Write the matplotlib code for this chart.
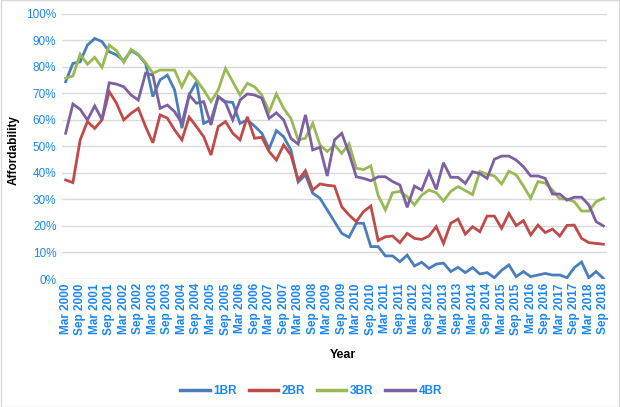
import matplotlib
matplotlib.use("Agg")
import matplotlib.pyplot as plt
from matplotlib.ticker import FuncFormatter
from matplotlib.patches import Rectangle

plt.rcParams['font.family'] = ['Liberation Sans', 'DejaVu Sans']

years = list(range(2000, 2019))
months = ["Mar", "Jun", "Sep", "Dec"]
quarters = [f"{m} {y}" for y in years for m in months][:75]

series_names = ["1BR", "2BR", "3BR", "4BR"]
colors = ["#4A7EBB", "#BE4B48", "#98B954", "#7D60A0"]

one_br = [74.3, 81.2, 81.8, 88.1, 90.6, 89.4, 85.6, 84.4, 82.2, 86.0, 84.4, 81.2, 68.7, 75.0, 76.8,
          71.2, 56.8, 69.3, 74.3, 58.6, 59.9, 68.7, 66.8, 66.5, 58.6, 59.9, 57.6, 54.9, 49.0,
          55.9, 53.6, 48.6, 36.5, 39.2, 32.3, 30.4, 26.0, 21.6, 17.2, 15.7, 21.0, 21.0, 12.2, 12.2,
          8.7, 8.7, 6.5, 9.0, 4.9, 6.3, 4.0, 5.6, 6.0, 2.8, 4.4, 2.4, 4.3, 1.9,
          2.4, 0.5, 3.3, 5.3, 0.9, 2.8, 0.9, 1.5, 2.1, 1.5, 1.5, 0.5, 4.3, 6.4, 0.5, 2.8, 0.2]
two_br = [37.3, 36.3, 52.4, 59.3, 56.7, 59.9, 70.6, 66.2, 59.9, 62.4, 64.3, 57.4, 51.3, 61.8, 60.6,
          56.1, 52.4, 61.0, 57.4, 53.6, 46.7, 57.4, 59.3, 54.9, 52.4, 61.1, 53.0, 53.4, 48.0,
          44.8, 50.5, 46.7, 37.3, 40.8, 33.5, 35.8, 35.3, 35.0, 27.2, 24.1, 21.6, 25.4, 27.5, 14.5,
          15.9, 16.2, 13.7, 17.2, 15.3, 14.9, 16.2, 19.7, 13.4, 21.0, 22.6, 16.9, 19.7, 17.8,
          23.7, 23.7, 19.1, 24.7, 20.1, 22.0, 16.6, 20.3, 17.5, 18.8, 16.2, 20.2, 20.3, 15.3, 13.7, 13.4, 13.1]
three_br = [75.6, 76.5, 84.7, 80.9, 83.5, 79.7, 88.1, 86.0, 81.6, 86.5, 84.7, 81.5, 77.5, 78.7, 78.7,
            78.7, 72.4, 78.1, 75.0, 71.2, 66.8, 71.2, 79.3, 74.3, 69.3, 73.7, 72.4, 69.3, 63.0,
            69.7, 64.3, 60.5, 52.4, 53.0, 58.6, 50.5, 48.0, 50.5, 47.3, 50.9, 41.7, 41.2, 42.6, 31.5,
            26.0, 32.5, 33.0, 31.0, 27.9, 31.6, 33.5, 32.5, 29.4, 33.0, 34.8, 33.3, 31.8, 40.5,
            39.5, 38.8, 35.8, 40.6, 39.2, 35.0, 30.4, 36.7, 36.1, 33.5, 30.2, 30.1, 29.1, 25.6, 25.6, 29.1, 30.4]
four_br = [54.9, 65.9, 63.9, 59.9, 65.2, 60.1, 73.9, 73.4, 72.4, 69.3, 67.4, 77.5, 76.8, 64.3, 65.5,
           63.0, 58.6, 69.3, 66.2, 66.8, 58.0, 68.7, 66.4, 59.9, 67.4, 69.7, 69.3, 68.1, 60.5,
           62.6, 59.9, 53.0, 50.8, 61.8, 48.6, 49.6, 38.8, 52.4, 54.9, 47.3, 38.5, 37.9, 37.0, 38.5,
           38.5, 36.7, 35.4, 27.0, 35.0, 33.5, 40.4, 33.8, 43.8, 38.3, 38.3, 36.0, 40.4, 39.7,
           37.9, 45.1, 46.3, 46.3, 44.8, 42.3, 38.8, 38.8, 37.9, 32.0, 32.0, 29.7, 30.8, 30.8, 27.9, 21.6, 20.0]

series = [one_br, two_br, three_br, four_br]
tick_color = "#1C86EE"

fig = plt.figure(figsize=(6.2, 4.07), dpi=100)
ax = fig.add_axes([62/620, 1 - 279/407, (607-62)/620, (279-13.5)/407])

x = list(range(len(quarters)))
for name, vals, c in zip(series_names, series, colors):
    ax.plot(x, vals, color=c, lw=2.0, label=name, solid_joinstyle='miter')

ax.set_xlim(-0.5, len(quarters) - 0.5)
ax.set_ylim(0, 100)
ax.set_yticks(range(0, 101, 10))
ax.yaxis.set_major_formatter(FuncFormatter(lambda v, p: f"{v:.0f}%"))
ax.set_xticks(x[::2])
ax.set_xticklabels(quarters[::2], rotation=90, fontsize=8.5, fontweight='bold', color=tick_color)
for lab in ax.get_yticklabels():
    lab.set_color(tick_color)
    lab.set_fontsize(8.5)
ax.tick_params(axis='both', length=0, pad=4)
ax.tick_params(axis='x', pad=3)
ax.grid(axis='y', color='#D9D9D9', lw=1)
ax.set_axisbelow(True)
for s in ax.spines.values():
    s.set_visible(False)

fig.text(14/620, 1 - 150/407, "Affordability", rotation=90, ha='center', va='center',
         fontsize=8.5, fontweight='bold', color='black')
fig.text(343/620, 1 - 355/407, "Year", ha='center', va='center',
         fontsize=9, fontweight='bold', color='black')

leg = fig.legend(loc='center', bbox_to_anchor=(311/620, 1 - 391/407), ncol=4, frameon=False,
                 prop={'size': 8.5, 'weight': 'bold'}, handlelength=2.5, handletextpad=0.3,
                 columnspacing=1.0)
for t in leg.get_texts():
    t.set_color(tick_color)
for l in leg.get_lines():
    l.set_linewidth(2.5)

fig.patches.append(Rectangle((0.001, 0.001), 0.998, 0.998, transform=fig.transFigure,
                             fill=False, edgecolor='#D9D9D9', lw=1))

fig.savefig("out.png", dpi=100)
